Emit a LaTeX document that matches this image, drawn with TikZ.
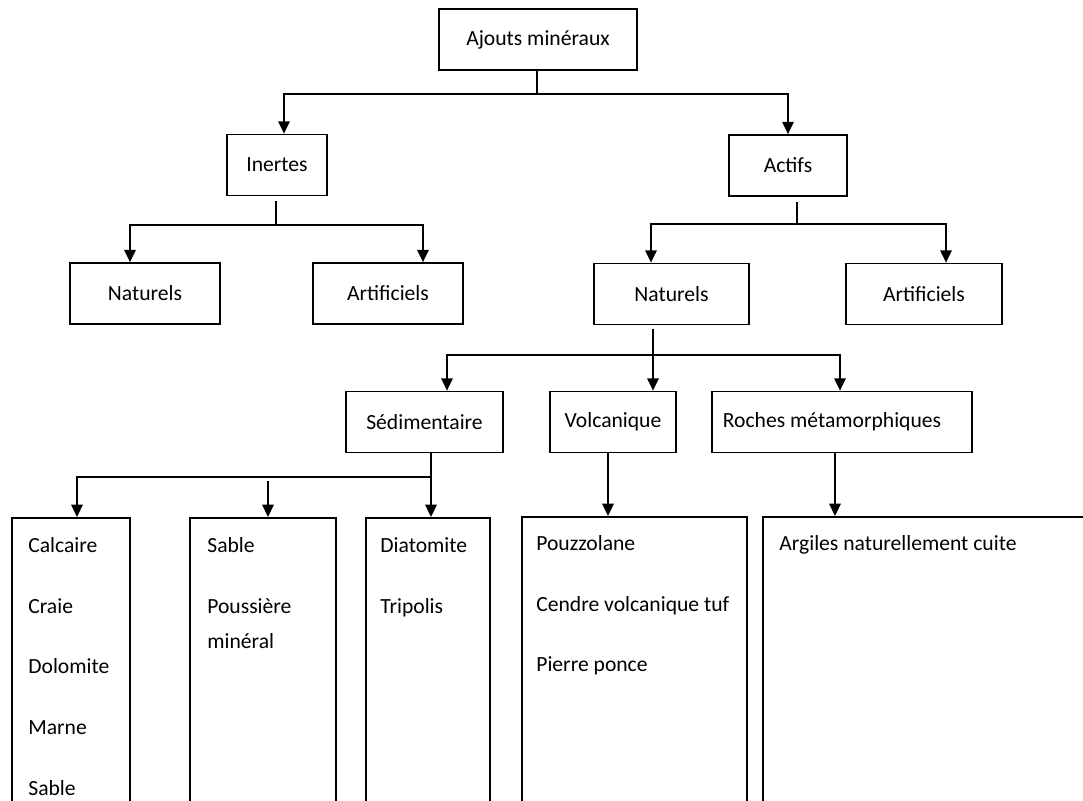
\documentclass[tikz,border=0pt]{standalone}
\usepackage{fontspec}
\setmainfont{Carlito}
\usepackage{tikz}
\usetikzlibrary{positioning,arrows.meta}
\newlength\pxl
\setlength\pxl{0.02cm}

\begin{document}
\begin{tikzpicture}[x=0.02cm, y=-0.02cm,
  box/.style={rectangle, draw=black, line width=1pt, fill=white, inner sep=0pt,
              minimum height=61\pxl, align=center, font=\fontsize{12.3}{14.5}\selectfont},
  col/.style={anchor=north west, inner sep=0pt, align=left, font=\fontsize{12.3}{20.4}\selectfont},
  arr/.style={-{Triangle[length=7pt,width=6.5pt]}, line width=1pt},
  lnk/.style={line width=1pt}
]
  \useasboundingbox (0,0) rectangle (1083,801);
  \clip (0,0) rectangle (1083,801);

  % upper levels
  \node[box, minimum width=198\pxl] (ajouts) at (538,39.5) {Ajouts minéraux};
  \node[box, minimum width=100\pxl] (inertes) at (277,165) {Inertes};
  \node[box, minimum width=118\pxl] (actifs) at (788,165.5) {Actifs};
  \node[box, minimum width=150\pxl] (natI) at (145,293.5) {Naturels};
  \node[box, minimum width=150\pxl] (artI) at (388,293.5) {Artificiels};
  \node[box, minimum width=155\pxl] (natA) at (671.5,294) {Naturels};
  \node[box, minimum width=156\pxl] (artA) at (924,294) {Artificiels};
  \node[box, minimum width=157\pxl] (sedi) at (424.5,422) {Sédimentaire};
  \node[box, minimum width=126\pxl] (volc) at (613,422) {Volcanique};
  \node[box, minimum width=260\pxl] (roches) at (842,422) {Roches métamorphiques\hspace*{20\pxl}};

  % lower boxes, cut by the page edge
  \node[box, anchor=north, minimum width=118\pxl, minimum height=330\pxl] (b1) at (71,517) {};
  \node[box, anchor=north, minimum width=146\pxl, minimum height=330\pxl] (b2) at (263,517) {};
  \node[box, anchor=north, minimum width=124\pxl, minimum height=330\pxl] (b3) at (428,517) {};
  \node[box, anchor=north, minimum width=225\pxl, minimum height=330\pxl] (b4) at (634.5,516) {};
  \node[box, anchor=north, minimum width=340\pxl, minimum height=330\pxl] (b5) at (933,516) {};

  \node[col] (t1) at (28,537) {Calcaire\\[14.2pt]Craie\\[14.2pt]Dolomite\\[14.2pt]Marne\\[14.2pt]Sable};
  \node[col] (t2) at (207,537) {Sable\\[14.2pt]Poussière\\minéral};
  \node[col] (t3) at (380,537) {Diatomite\\[14.2pt]Tripolis};
  \node[col] (t4) at (536,535) {Pouzzolane\\[14.2pt]Cendre volcanique tuf\\[14.2pt]Pierre ponce};
  \node[col] (t5) at (779,535) {Argiles naturellement cuite};

  % junctions
  \coordinate (jA) at (537,94);
  \coordinate (jI) at (276,225);
  \coordinate (jC) at (797,224);
  \coordinate (jN) at (653,355);
  \coordinate (jS) at (431,477);

  \draw[lnk] (ajouts.south -| jA) -- (jA);
  \draw[arr] (jA) -| ([xshift=7\pxl]inertes.north);
  \draw[arr] (jA) -| (actifs.north);

  \draw[lnk] ([yshift=-5\pxl]inertes.south -| jI) -- (jI);
  \draw[arr] (jI) -| ([xshift=-15\pxl]natI.north);
  \draw[arr] (jI) -| ([xshift=35\pxl]artI.north);

  \draw[lnk] ([yshift=-5\pxl]actifs.south -| jC) -- (jC);
  \draw[arr] (jC) -| ([xshift=-20.5\pxl]natA.north);
  \draw[arr] (jC) -| ([xshift=22\pxl]artA.north);

  \draw[arr] ([yshift=-4\pxl]natA.south -| jN) -- (volc.north -| jN);
  \draw[arr] (jN) -| ([xshift=22.5\pxl]sedi.north);
  \draw[arr] (jN) -| ([xshift=-2\pxl]roches.north);

  \draw[lnk] (sedi.south -| jS) -- (jS);
  \draw[arr] (jS) -| ([xshift=6\pxl]b1.north);
  \draw[arr] ([yshift=-4\pxl]jS -| b2.north) ++(5,0) -- ([xshift=5\pxl]b2.north);
  \draw[arr] (jS) -- (b3.north -| jS);

  \draw[arr] ([xshift=-5\pxl]volc.south) -- ([xshift=-5\pxl]volc.south |- b4.north);
  \draw[arr] ([xshift=-7\pxl]roches.south) -- ([xshift=-7\pxl]roches.south |- b5.north);
\end{tikzpicture}
\end{document}
